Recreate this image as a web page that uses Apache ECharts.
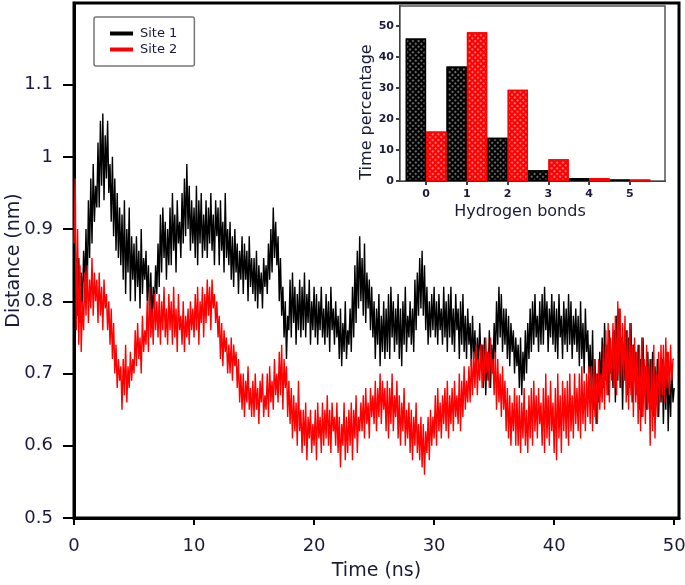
<!DOCTYPE html>
<html>
<head>
<meta charset="utf-8">
<script src="https://cdn.jsdelivr.net/npm/echarts@6/dist/echarts.min.js"></script>
<style>
html,body{margin:0;padding:0;background:#fff;}
#chart{width:685px;height:585px;}
</style>
</head>
<body>
<div id="chart"></div>
<script>
// ---- data (one row per ns, 0.1 ns samples) ----
const sampleStepNs = 0.1;
const site1Distance = [
0.80,0.76,0.83,0.78,0.86,0.77,0.84,0.79,0.87,0.82,
0.90,0.81,0.94,0.86,0.97,0.88,0.99,0.91,0.96,0.93,
1.02,0.93,1.05,0.96,1.06,0.94,1.03,0.97,1.05,0.95,
0.99,0.91,1.00,0.89,0.97,0.87,0.95,0.86,0.93,0.85,
0.92,0.83,0.94,0.81,0.90,0.84,0.93,0.80,0.89,0.83,
0.88,0.80,0.89,0.82,0.87,0.79,0.90,0.81,0.86,0.83,
0.87,0.80,0.85,0.78,0.84,0.77,0.82,0.79,0.85,0.81,
0.88,0.82,0.92,0.84,0.93,0.86,0.91,0.83,0.90,0.85,
0.93,0.85,0.95,0.87,0.92,0.84,0.94,0.88,0.91,0.86,
0.95,0.88,0.97,0.89,0.99,0.90,0.96,0.87,0.94,0.88,
0.93,0.86,0.96,0.85,0.94,0.88,0.95,0.86,0.92,0.87,
0.94,0.86,0.93,0.88,0.95,0.87,0.92,0.85,0.94,0.89,
0.93,0.85,0.94,0.87,0.91,0.84,0.95,0.86,0.90,0.85,
0.91,0.83,0.89,0.82,0.90,0.84,0.88,0.81,0.87,0.83,
0.89,0.81,0.88,0.83,0.87,0.80,0.89,0.82,0.86,0.81,
0.86,0.80,0.87,0.79,0.85,0.81,0.84,0.79,0.86,0.82,
0.85,0.81,0.88,0.83,0.90,0.84,0.93,0.86,0.91,0.85,
0.89,0.80,0.86,0.78,0.82,0.75,0.80,0.72,0.78,0.76,
0.83,0.75,0.84,0.77,0.82,0.74,0.81,0.76,0.83,0.75,
0.82,0.76,0.84,0.75,0.81,0.77,0.83,0.74,0.80,0.76,
0.82,0.75,0.81,0.74,0.80,0.76,0.82,0.75,0.79,0.74,
0.81,0.75,0.80,0.73,0.82,0.76,0.79,0.74,0.80,0.75,
0.78,0.72,0.79,0.71,0.77,0.73,0.80,0.72,0.76,0.74,
0.79,0.73,0.82,0.75,0.85,0.77,0.87,0.79,0.89,0.80,
0.86,0.78,0.88,0.77,0.84,0.79,0.83,0.76,0.82,0.75,
0.80,0.72,0.79,0.74,0.81,0.71,0.78,0.73,0.80,0.72,
0.79,0.73,0.81,0.72,0.82,0.75,0.80,0.73,0.79,0.74,
0.81,0.72,0.79,0.71,0.80,0.74,0.82,0.73,0.78,0.75,
0.80,0.74,0.79,0.73,0.83,0.76,0.84,0.78,0.86,0.79,
0.87,0.78,0.85,0.76,0.82,0.74,0.80,0.75,0.81,0.76,
0.82,0.75,0.80,0.74,0.81,0.76,0.79,0.74,0.82,0.75,
0.80,0.73,0.81,0.75,0.82,0.74,0.79,0.73,0.81,0.76,
0.79,0.72,0.80,0.74,0.81,0.73,0.78,0.72,0.79,0.74,
0.77,0.71,0.78,0.72,0.76,0.70,0.75,0.71,0.77,0.72,
0.74,0.68,0.75,0.67,0.73,0.69,0.76,0.68,0.74,0.70,
0.77,0.72,0.80,0.74,0.82,0.75,0.81,0.73,0.79,0.74,
0.79,0.72,0.78,0.71,0.77,0.73,0.76,0.70,0.75,0.71,
0.74,0.68,0.75,0.67,0.73,0.69,0.76,0.70,0.77,0.72,
0.79,0.73,0.80,0.74,0.81,0.75,0.78,0.73,0.80,0.74,
0.81,0.74,0.82,0.76,0.80,0.73,0.79,0.75,0.81,0.74,
0.80,0.73,0.79,0.72,0.81,0.75,0.78,0.72,0.80,0.74,
0.79,0.73,0.81,0.74,0.80,0.72,0.78,0.74,0.79,0.73,
0.78,0.71,0.80,0.72,0.77,0.70,0.79,0.73,0.76,0.70,
0.74,0.67,0.76,0.65,0.72,0.63,0.70,0.66,0.73,0.68,
0.75,0.68,0.77,0.69,0.74,0.67,0.76,0.70,0.73,0.68,
0.76,0.66,0.78,0.69,0.79,0.68,0.75,0.65,0.74,0.69,
0.76,0.67,0.75,0.68,0.77,0.66,0.74,0.69,0.73,0.67,
0.74,0.65,0.72,0.64,0.75,0.67,0.71,0.65,0.73,0.66,
0.72,0.65,0.73,0.64,0.71,0.66,0.72,0.64,0.70,0.66,
0.72,0.63,0.71,0.65,0.73,0.62,0.70,0.64,0.71,0.66,
0.68
];
const site2Distance = [
0.88,0.97,0.76,0.90,0.74,0.85,0.73,0.80,0.76,0.84,
0.78,0.85,0.77,0.83,0.79,0.86,0.78,0.84,0.80,0.83,
0.77,0.84,0.78,0.82,0.76,0.83,0.79,0.81,0.76,0.80,
0.74,0.79,0.72,0.77,0.70,0.74,0.68,0.72,0.69,0.71,
0.65,0.72,0.67,0.74,0.66,0.71,0.68,0.73,0.69,0.72,
0.70,0.76,0.71,0.77,0.72,0.75,0.70,0.78,0.73,0.76,
0.74,0.80,0.73,0.82,0.75,0.79,0.74,0.81,0.76,0.80,
0.75,0.81,0.74,0.80,0.76,0.82,0.75,0.79,0.74,0.81,
0.76,0.80,0.74,0.82,0.75,0.79,0.73,0.81,0.76,0.78,
0.74,0.80,0.73,0.78,0.75,0.79,0.74,0.80,0.76,0.79,
0.75,0.81,0.76,0.82,0.74,0.80,0.77,0.82,0.75,0.81,
0.77,0.83,0.78,0.82,0.76,0.83,0.79,0.81,0.77,0.80,
0.75,0.78,0.72,0.77,0.71,0.76,0.73,0.75,0.70,0.74,
0.70,0.75,0.69,0.74,0.71,0.73,0.68,0.72,0.66,0.70,
0.65,0.70,0.64,0.69,0.66,0.71,0.65,0.68,0.64,0.69,
0.64,0.70,0.65,0.68,0.63,0.69,0.66,0.70,0.64,0.67,
0.65,0.70,0.64,0.71,0.66,0.69,0.65,0.72,0.67,0.70,
0.66,0.73,0.67,0.74,0.65,0.72,0.68,0.71,0.64,0.69,
0.63,0.68,0.61,0.67,0.62,0.66,0.60,0.69,0.62,0.65,
0.59,0.65,0.60,0.66,0.58,0.64,0.61,0.65,0.59,0.63,
0.60,0.65,0.58,0.66,0.61,0.64,0.59,0.66,0.60,0.65,
0.61,0.67,0.60,0.65,0.59,0.66,0.62,0.64,0.60,0.66,
0.59,0.64,0.57,0.63,0.60,0.66,0.58,0.64,0.59,0.65,
0.60,0.66,0.58,0.65,0.61,0.67,0.59,0.64,0.62,0.66,
0.62,0.67,0.61,0.68,0.63,0.66,0.61,0.68,0.64,0.67,
0.63,0.69,0.62,0.68,0.64,0.70,0.63,0.69,0.65,0.68,
0.62,0.69,0.61,0.68,0.63,0.70,0.62,0.67,0.64,0.69,
0.61,0.67,0.60,0.66,0.62,0.68,0.60,0.65,0.61,0.66,
0.59,0.65,0.58,0.64,0.60,0.66,0.59,0.63,0.58,0.64,
0.57,0.63,0.56,0.62,0.59,0.64,0.58,0.65,0.60,0.64,
0.61,0.67,0.60,0.68,0.62,0.66,0.61,0.67,0.63,0.68,
0.62,0.69,0.61,0.67,0.63,0.68,0.62,0.69,0.64,0.67,
0.63,0.70,0.62,0.69,0.64,0.71,0.65,0.69,0.66,0.71,
0.66,0.72,0.67,0.73,0.68,0.74,0.67,0.72,0.69,0.74,
0.68,0.74,0.69,0.75,0.70,0.73,0.68,0.75,0.70,0.72,
0.67,0.73,0.65,0.72,0.66,0.70,0.64,0.71,0.65,0.69,
0.62,0.68,0.61,0.67,0.60,0.66,0.62,0.68,0.60,0.67,
0.60,0.67,0.59,0.66,0.61,0.68,0.60,0.65,0.59,0.67,
0.61,0.68,0.60,0.69,0.62,0.67,0.61,0.68,0.63,0.66,
0.60,0.68,0.59,0.70,0.61,0.67,0.60,0.69,0.62,0.66,
0.59,0.68,0.58,0.70,0.61,0.67,0.59,0.69,0.62,0.68,
0.61,0.69,0.60,0.70,0.62,0.67,0.61,0.70,0.63,0.68,
0.62,0.70,0.61,0.71,0.63,0.69,0.62,0.70,0.64,0.71,
0.63,0.71,0.62,0.72,0.64,0.70,0.63,0.72,0.65,0.70,
0.66,0.74,0.65,0.76,0.67,0.77,0.66,0.75,0.69,0.77,
0.68,0.78,0.67,0.80,0.70,0.79,0.68,0.77,0.69,0.78,
0.66,0.76,0.65,0.77,0.67,0.74,0.64,0.75,0.66,0.73,
0.63,0.74,0.62,0.75,0.64,0.72,0.63,0.74,0.65,0.71,
0.60,0.72,0.62,0.74,0.61,0.70,0.64,0.73,0.66,0.74,
0.67,0.74,0.66,0.75,0.68,0.73,0.67,0.74,0.69,0.72,
0.72
];
const seriesNames = ['Site 1', 'Site 2'];
const timeTicks = [0, 10, 20, 30, 40, 50];
const distanceTicks = [0.5, 0.6, 0.7, 0.8, 0.9, 1, 1.1];

const hbondCounts = [0, 1, 2, 3, 4, 5];
const site1Percent = [46, 37, 14, 3.5, 1, 0.5];
const site2Percent = [16, 48, 29.5, 7, 1, 0.5];
const percentTicks = [0, 10, 20, 30, 40, 50];

// ---- chart ----
const FONT = "'DejaVu Sans', sans-serif";
const TXT = '#1a1a3a';
const chart = echarts.init(document.getElementById('chart'), null, {renderer: 'canvas'});

const toPairs = arr => arr.map((v, i) => [+(i * sampleStepNs).toFixed(2), v]);
const decalFor = col => ({
  symbol: 'circle', symbolSize: 1, color: col,
  dashArrayX: [2, 1.4], dashArrayY: [2, 1.4], rotation: Math.PI / 4
});

const option = {
  animation: false,
  backgroundColor: '#fff',
  legend: {
    data: seriesNames,
    orient: 'vertical',
    left: 94, top: 17,
    padding: [10, 17, 10, 16],
    itemGap: 3,
    itemWidth: 23, itemHeight: 4,
    icon: 'rect',
    borderColor: '#777', borderWidth: 1.5, borderRadius: 2,
    textStyle: {fontFamily: FONT, fontSize: 13, color: TXT, padding: [0, 0, 0, 2]}
  },
  grid: [
    {left: 74, right: 6, top: 3, bottom: 67, outerBoundsMode: 'none', containLabel: false,
     show: true, borderColor: '#000', borderWidth: 3, backgroundColor: 'transparent'},
    {left: 400, right: 20, top: 6, bottom: 404, outerBoundsMode: 'none', containLabel: false,
     show: true, borderColor: '#555', borderWidth: 1.5, backgroundColor: '#fff', z: 5}
  ],
  xAxis: [
    {
      type: 'value', gridIndex: 0, min: 0, max: 50.4,
      name: 'Time (ns)', nameLocation: 'middle', nameGap: 44, nameMoveOverlap: false,
      nameTextStyle: {fontFamily: FONT, fontSize: 19, color: TXT},
      splitLine: {show: false},
      axisLine: {onZero: false, lineStyle: {color: '#000', width: 3}},
      axisTick: {show: true, customValues: timeTicks, length: 7, lineStyle: {width: 2, color: '#000'}},
      axisLabel: {customValues: timeTicks, margin: 19, fontFamily: FONT, fontSize: 18, color: TXT}
    },
    {
      type: 'value', gridIndex: 1, min: -0.64, max: 5.86,
      name: 'Hydrogen bonds', nameLocation: 'middle', nameGap: 23, nameMoveOverlap: false,
      nameTextStyle: {fontFamily: FONT, fontSize: 16, color: TXT, padding: [0, 25, 0, 0]},
      splitLine: {show: false},
      axisLine: {onZero: false, lineStyle: {color: '#000', width: 2}},
      axisTick: {show: true, customValues: hbondCounts, length: 4, lineStyle: {width: 1.5, color: '#000'}},
      axisLabel: {customValues: hbondCounts, margin: 8, fontFamily: FONT, fontSize: 11, fontWeight: 'bold', color: TXT}
    }
  ],
  yAxis: [
    {
      type: 'value', gridIndex: 0, min: 0.5, max: 1.213,
      name: 'Distance (nm)', nameLocation: 'middle', nameGap: 50, nameMoveOverlap: false,
      nameTextStyle: {fontFamily: FONT, fontSize: 19, color: TXT},
      splitLine: {show: false},
      axisLine: {onZero: false, lineStyle: {color: '#000', width: 3}},
      axisTick: {show: true, customValues: distanceTicks, length: 11, lineStyle: {width: 2, color: '#000'}},
      axisLabel: {customValues: distanceTicks, margin: 21, fontFamily: FONT, fontSize: 18, color: TXT,
        formatter: v => String(+v.toFixed(2))}
    },
    {
      type: 'value', gridIndex: 1, min: 0, max: 56.5,
      name: 'Time percentage', nameLocation: 'middle', nameGap: 25, nameMoveOverlap: false,
      nameTextStyle: {fontFamily: FONT, fontSize: 16, color: TXT, padding: [0, 37, 0, 0]},
      splitLine: {show: false},
      axisLine: {onZero: false, lineStyle: {color: '#000', width: 2}},
      axisTick: {show: true, customValues: percentTicks, length: 4, lineStyle: {width: 1.5, color: '#000'}},
      axisLabel: {customValues: percentTicks, margin: 6, fontFamily: FONT, fontSize: 11, fontWeight: 'bold', color: TXT}
    }
  ],
  series: [
    {
      name: seriesNames[0], type: 'line', xAxisIndex: 0, yAxisIndex: 0,
      data: toPairs(site1Distance), showSymbol: false, symbol: 'none',
      lineStyle: {color: '#000', width: 1.4}, itemStyle: {color: '#000'}, z: 2
    },
    {
      name: seriesNames[1], type: 'line', xAxisIndex: 0, yAxisIndex: 0,
      data: toPairs(site2Distance), showSymbol: false, symbol: 'none',
      lineStyle: {color: '#ff0000', width: 1.4}, itemStyle: {color: '#ff0000'}, z: 3
    },
    {
      name: 'Site 1 H-bonds', type: 'bar', xAxisIndex: 1, yAxisIndex: 1,
      data: hbondCounts.map((b, i) => [b, site1Percent[i]]),
      barGap: '0%', barCategoryGap: '0%',
      itemStyle: {color: '#000', borderColor: '#000', borderWidth: 1.5, decal: decalFor('rgba(255,255,255,0.55)')},
      z: 10
    },
    {
      name: 'Site 2 H-bonds', type: 'bar', xAxisIndex: 1, yAxisIndex: 1,
      data: hbondCounts.map((b, i) => [b, site2Percent[i]]),
      barGap: '0%', barCategoryGap: '0%',
      itemStyle: {color: '#ff0000', borderColor: '#ff0000', borderWidth: 1.5, decal: decalFor('rgba(255,255,255,0.6)')},
      z: 10
    }
  ]
};
chart.setOption(option);
</script>
</body>
</html>
